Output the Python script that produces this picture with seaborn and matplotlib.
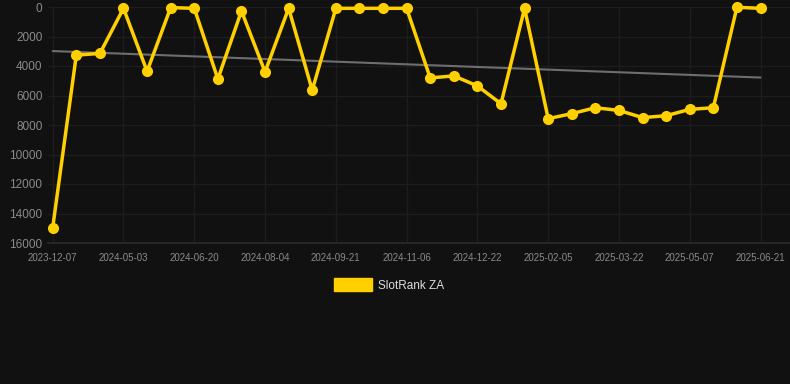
import numpy as np
import pandas as pd
import matplotlib
matplotlib.use("Agg")
import matplotlib.pyplot as plt
import seaborn as sns
from matplotlib.patches import Patch

# fechas (cada ~15 dias, etiqueta cada 3 puntos)
dates = ["2023-12-07", "2024-04-01", "2024-04-17", "2024-05-03", "2024-05-19",
         "2024-06-04", "2024-06-20", "2024-07-05", "2024-07-20", "2024-08-04",
         "2024-08-20", "2024-09-05", "2024-09-21", "2024-10-06", "2024-10-22",
         "2024-11-06", "2024-11-21", "2024-12-07", "2024-12-22", "2025-01-06",
         "2025-01-21", "2025-02-05", "2025-02-20", "2025-03-07", "2025-03-22",
         "2025-04-06", "2025-04-22", "2025-05-07", "2025-05-22", "2025-06-06",
         "2025-06-21"]
rank = [14950, 3260, 3150, 90, 4360, 40, 90, 4880, 270, 4400,
        90, 5640, 90, 90, 90, 90, 4810, 4670, 5350, 6560,
        90, 7570, 7230, 6830, 7010, 7500, 7370, 6940, 6830, 20,
        90]
series_name = "SlotRank ZA"

bg = "#111111"
gold = "#FFD000"
grid_c = "#1d1d1d"
tick_c = "#8a8a8a"

df = pd.DataFrame({"date": dates, "rank": rank})
df["idx"] = np.arange(len(df))

sns.set_theme(style="dark")
plt.rcParams["font.family"] = ["Liberation Sans", "DejaVu Sans"]

fig = plt.figure(figsize=(7.9, 3.84), dpi=100, facecolor=bg)
ax = fig.add_axes([48 / 790, 1 - 243 / 384, 742 / 790, 236 / 384])
ax.set_facecolor(bg)

# linea de tendencia (regresion lineal)
coef = np.polyfit(df["idx"], df["rank"], 1)
trend = np.polyval(coef, df["idx"])
ax.plot(df["idx"], trend, color="#6e6e6e", lw=1.5, zorder=2)

sns.lineplot(data=df, x="idx", y="rank", ax=ax, color=gold, lw=2.5,
             marker="o", markersize=8, markeredgewidth=0, zorder=3)
for ln in ax.lines:
    ln.set_clip_on(False)

ax.set_ylim(16000, 0)
ax.set_xlim(-0.2, 31.25)
ax.set_yticks(np.arange(0, 16001, 2000))
ax.set_yticklabels([str(v) for v in range(0, 16001, 2000)])
ticks = df["idx"][::3]
ax.set_xticks(ticks)
ax.set_xticklabels(df["date"][::3])
ax.set_xlabel("")
ax.set_ylabel("")

ax.grid(True, color=grid_c, lw=1)
ax.tick_params(axis="x", colors=grid_c, labelcolor=tick_c, labelsize=7, length=5, width=1, pad=2)
ax.tick_params(axis="y", colors=grid_c, labelcolor=tick_c, labelsize=8.5, length=0, pad=4)
for s in ["top", "right", "left"]:
    ax.spines[s].set_visible(False)
ax.spines["bottom"].set_color("#2a2a2a")

fig.legend(handles=[Patch(facecolor=gold, edgecolor=gold, label=series_name)],
           loc="center", bbox_to_anchor=(389 / 790, 1 - 285 / 384), frameon=False,
           handlelength=3.3, handleheight=1.2, fontsize=8.5, labelcolor="#dddddd",
           handletextpad=0.5)

fig.savefig("out.png", dpi=100, facecolor=bg)
